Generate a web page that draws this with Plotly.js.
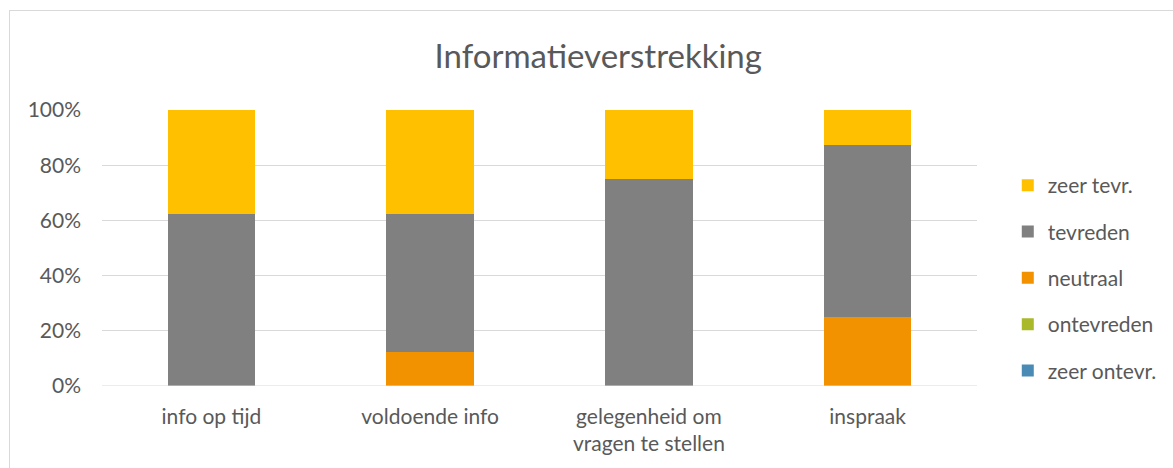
<!DOCTYPE html>
<html>
<head>
<meta charset="utf-8">
<script src="https://cdn.plot.ly/plotly-3.0.1.min.js"></script>
<style>
html,body{margin:0;padding:0;background:#fff;}
#wrap{position:relative;width:1173px;height:468px;}
#chart{width:1173px;height:468px;}
#frame{position:absolute;left:9px;top:10px;width:1200px;height:500px;border-left:1px solid #d9d9d9;border-top:1px solid #d9d9d9;pointer-events:none;}
</style>
</head>
<body>
<div id="wrap"><div id="chart"></div><div id="frame"></div></div>
<script>
const categories = ["info op tijd", "voldoende info", "gelegenheid om<br>vragen te stellen", "inspraak"];
const seriesNames = ["zeer ontevr.", "ontevreden", "neutraal", "tevreden", "zeer tevr."];
const zeerOntevr = [0, 0, 0, 0];
const ontevreden = [0, 0, 0, 0];
const neutraal = [0, 0.125, 0, 0.25];
const tevreden = [0.625, 0.5, 0.75, 0.625];
const zeerTevr = [0.375, 0.375, 0.25, 0.125];
const yTickVals = [0, 0.2, 0.4, 0.6, 0.8, 1.0];
const yTickText = ["0%", "20%", "40%", "60%", "80%", "100%"];
const title = "Informatieverstrekking";

const colors = ["#4A8BB5", "#A9B92A", "#F39200", "#808080", "#FFC000"];
const values = [zeerOntevr, ontevreden, neutraal, tevreden, zeerTevr];

const font = "Lato, Open Sans, sans-serif";
const traces = seriesNames.map((n, i) => ({
  type: "bar",
  name: n,
  x: categories,
  y: values[i],
  width: 0.4,
  marker: {color: colors[i], line: {width: 0}},
  legendgroup: "g" + i,
  legendrank: 100 - i,
  hoverinfo: "name+y"
}));

const layout = {
  width: 1173, height: 468,
  margin: {l: 102, r: 195, t: 110, b: 82},
  barmode: "stack",
  paper_bgcolor: "#fff",
  plot_bgcolor: "#fff",
  font: {family: font, color: "#595959", size: 21},
  title: {text: title, x: 0.51, xanchor: "center", y: 0.88, yanchor: "middle", font: {family: font, size: 33, color: "#595959"}},
  xaxis: {
    showgrid: false, showline: false, zeroline: false, ticks: "",
    tickfont: {size: 21, color: "#595959"}, ticklabelstandoff: 16,
    fixedrange: true
  },
  yaxis: {
    range: [0, 1], tickvals: yTickVals, ticktext: yTickText,
    showgrid: true, gridcolor: "#d9d9d9", gridwidth: 1,
    zeroline: false, showline: false, ticks: "",
    tickfont: {size: 21, color: "#595959"}, ticklabelstandoff: 20,
    fixedrange: true
  },
  shapes: [{type: "line", xref: "paper", yref: "y", x0: 0, x1: 1, y0: 0, y1: 0, line: {color: "#d9d9d9", width: 1}}],
  legend: {
    x: 1.034, xanchor: "left", y: 0.391, yanchor: "middle",
    traceorder: "grouped", tracegroupgap: 16,
    font: {size: 21, color: "#595959"},
    itemwidth: 30
  },
  showlegend: true
};

Plotly.newPlot("chart", traces, layout, {displayModeBar: false, staticPlot: true});
</script>
</body>
</html>
